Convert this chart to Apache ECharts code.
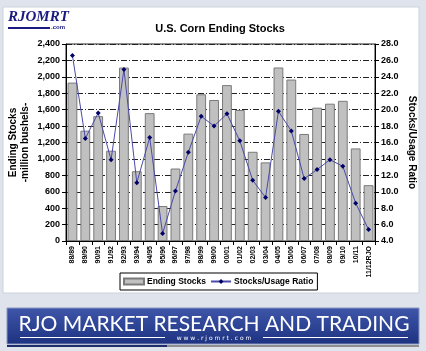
<!DOCTYPE html>
<html>
<head>
<meta charset="utf-8">
<script src="https://cdn.jsdelivr.net/npm/echarts@6/dist/echarts.min.js"></script>
<style>
  html, body { margin: 0; padding: 0; background: #dfe4ec; }
  #chart { width: 426px; height: 351px; }
</style>
</head>
<body>
<div id="chart"></div>
<script>
  // marketing years
  var years = ['88/89', '89/90', '90/91', '91/92', '92/93', '93/94', '94/95', '95/96',
    '96/97', '97/98', '98/99', '99/00', '00/01', '01/02', '02/03', '03/04', '04/05',
    '05/06', '06/07', '07/08', '08/09', '09/10', '10/11', '11/12RJO'];
  // ending stocks, million bushels
  var endingStocks = [1930, 1344, 1521, 1100, 2113, 850, 1558, 426, 883, 1308, 1787, 1718,
    1899, 1596, 1087, 958, 2114, 1967, 1304, 1624, 1673, 1708, 1128, 680];
  // stocks / usage ratio, %
  var stocksUsage = [26.6, 16.5, 19.6, 13.9, 24.9, 11.1, 16.6, 4.9, 10.1, 14.8, 19.2, 18.0,
    19.5, 16.2, 11.4, 9.3, 19.8, 17.4, 11.6, 12.7, 13.9, 13.1, 8.6, 5.4];

  var font = 'Liberation Sans';
  var chart = echarts.init(document.getElementById('chart'));
  chart.setOption({
    backgroundColor: '#dfe4ec',
    animation: false,
    textStyle: { fontFamily: font },
    title: {
      text: 'U.S. Corn Ending Stocks',
      left: 215, top: 18, textAlign: 'center',
      textStyle: { fontSize: 11, fontWeight: 'bold', color: '#000', fontFamily: font }
    },
    legend: {
      left: 120, top: 273,
      itemWidth: 20, itemHeight: 6, itemGap: 4,
      padding: [4, 4, 4, 3],
      borderColor: '#000', borderWidth: 1, backgroundColor: '#fff',
      textStyle: { fontSize: 8.5, fontWeight: 'bold', color: '#000', fontFamily: font, padding: [0, 0, 0, -2] },
      data: [
        { name: 'Ending Stocks', icon: 'rect' },
        { name: 'Stocks/Usage Ratio' }
      ]
    },
    grid: {
      left: 66, right: 51, top: 44, bottom: 110, outerBoundsMode: 'none',
      show: true, borderColor: '#222', borderWidth: 1
    },
    xAxis: {
      type: 'category',
      data: years,
      axisLine: { lineStyle: { color: '#000' } },
      axisTick: { show: true, length: 4, lineStyle: { color: '#000' } },
      axisLabel: { rotate: 90, fontSize: 7, fontWeight: 'bold', color: '#000', margin: 5, interval: 0 }
    },
    yAxis: [{
      type: 'value', min: 0, max: 2400, interval: 200,
      name: 'Ending Stocks\n-million bushels-',
      nameLocation: 'middle', nameRotate: 90, nameGap: 35, nameMoveOverlap: false,
      nameTextStyle: { fontSize: 10, fontWeight: 'bold', color: '#000', lineHeight: 12 },
      axisLine: { show: true, lineStyle: { color: '#000' } },
      axisTick: { show: true, length: 4, lineStyle: { color: '#000' } },
      axisLabel: {
        fontSize: 9, fontWeight: 'bold', color: '#000', margin: 6,
        formatter: function (v) { return v.toLocaleString('en-US'); }
      },
      splitLine: { lineStyle: { color: '#222', type: [6, 2, 1, 2] } }
    }, {
      type: 'value', min: 4, max: 28, interval: 2,
      name: 'Stocks/Usage Ratio',
      nameLocation: 'middle', nameRotate: -90, nameGap: 32, nameMoveOverlap: false,
      nameTextStyle: { fontSize: 10, fontWeight: 'bold', color: '#000' },
      axisLine: { show: true, lineStyle: { color: '#000' } },
      axisTick: { show: true, length: 4, lineStyle: { color: '#000' } },
      axisLabel: {
        fontSize: 9, fontWeight: 'bold', color: '#000', margin: 6,
        formatter: function (v) { return v.toFixed(1); }
      },
      splitLine: { show: false }
    }],
    series: [{
      name: 'Ending Stocks',
      type: 'bar',
      data: endingStocks,
      barCategoryGap: '24%',
      itemStyle: { color: '#c0c0c0', borderColor: '#7a7a7a', borderWidth: 1 }
    }, {
      name: 'Stocks/Usage Ratio',
      type: 'line',
      yAxisIndex: 1,
      data: stocksUsage,
      symbol: 'diamond', symbolSize: 5,
      lineStyle: { color: '#4a4aa8', width: 1 },
      itemStyle: { color: '#000066' }
    }],
    graphic: [
      // white chart panel
      { type: 'rect', z: -10, shape: { x: 3, y: 7, width: 416, height: 286 },
        style: { fill: '#fff', stroke: '#ccd2dc', lineWidth: 1 } },
      // logo
      { type: 'text', left: 8, top: 10, z: 10,
        style: { text: 'RJOMRT', fill: '#1a1a80', font: 'italic bold 15px "Liberation Serif"' } },
      { type: 'rect', z: 10, shape: { x: 8, y: 27, width: 42, height: 2 }, style: { fill: '#1a1a80' } },
      { type: 'text', left: 51, top: 24, z: 10,
        style: { text: '.com', fill: '#1a1a80', font: 'bold 6px "Liberation Sans"' } },
      // banner
      { type: 'rect', z: 10, shape: { x: 7, y: 308, width: 412, height: 36 },
        style: {
          fill: new echarts.graphic.LinearGradient(0, 0, 0, 1, [
            { offset: 0, color: '#3f56aa' }, { offset: 1, color: '#1d3280' }
          ]),
          stroke: '#8a96c0', lineWidth: 1
        } },
      { type: 'text', z: 11, x: 214, y: 324,
        style: { text: 'RJO MARKET RESEARCH AND TRADING', fill: '#fff',
          font: '21px "Lato"', textAlign: 'center', textVerticalAlign: 'middle' } },
      { type: 'rect', z: 11, shape: { x: 20, y: 337, width: 145, height: 1 }, style: { fill: '#fff' } },
      { type: 'rect', z: 11, shape: { x: 263, y: 337, width: 145, height: 1 }, style: { fill: '#fff' } },
      { type: 'text', z: 11, x: 214, y: 338,
        style: { text: 'w w w . r j o m r t . c o m', fill: '#fff',
          font: '6px "DejaVu Sans"', textAlign: 'center', textVerticalAlign: 'middle' } },
      { type: 'rect', z: 10, shape: { x: 7, y: 345, width: 160, height: 2 }, style: { fill: '#1d2e6a' } },
      { type: 'rect', z: 10, shape: { x: 167, y: 345, width: 252, height: 2 }, style: { fill: '#8e8e8e' } }
    ]
  });
</script>
</body>
</html>
